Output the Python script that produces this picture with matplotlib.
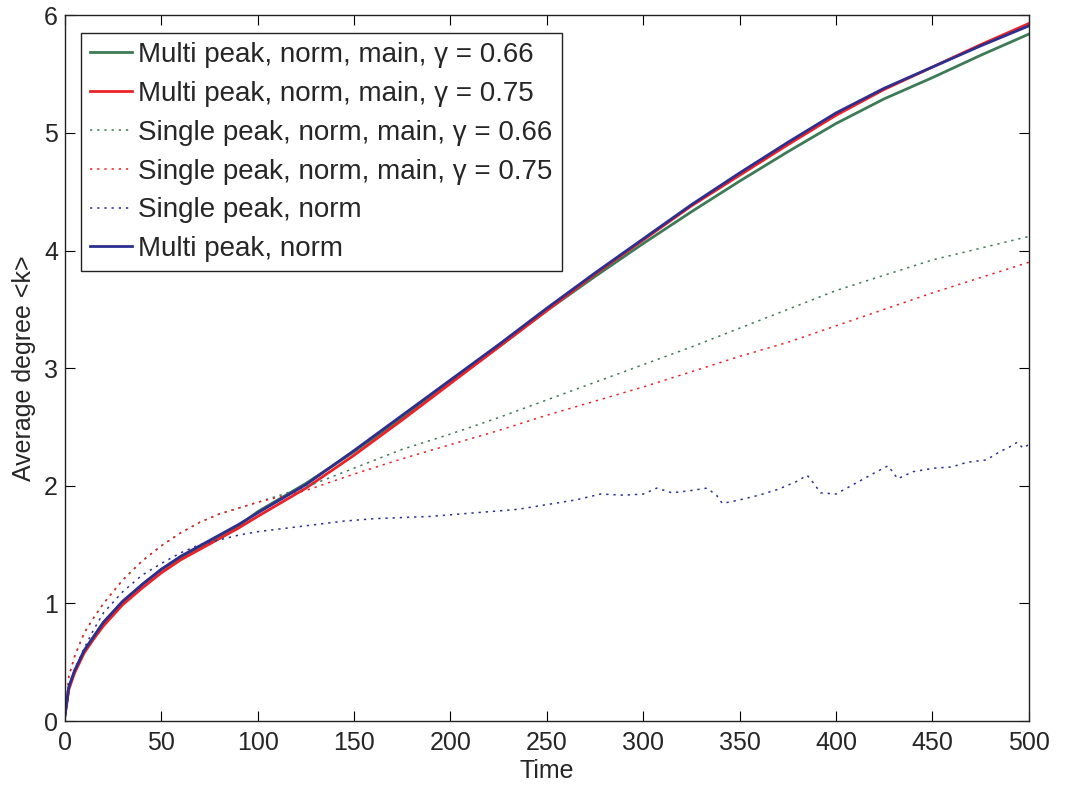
import matplotlib
matplotlib.use('Agg')
import matplotlib.pyplot as plt

plt.rcParams['font.family'] = ['Liberation Sans', 'DejaVu Sans']

# time samples for the smooth curves
t = [0, 2, 5, 10, 15, 20, 30, 40, 50, 60, 70, 80, 90, 100, 125, 150, 175,
     200, 225, 250, 275, 300, 325, 350, 375, 400, 425, 450, 475, 500]

multi_066 = [0.05, 0.28, 0.42, 0.60, 0.72, 0.84, 1.01, 1.16, 1.29, 1.39, 1.48,
             1.57, 1.66, 1.78, 2.02, 2.29, 2.58, 2.88, 3.18, 3.49, 3.78, 4.06,
             4.33, 4.59, 4.84, 5.08, 5.29, 5.47, 5.66, 5.84]
multi_075 = [0.05, 0.27, 0.41, 0.58, 0.70, 0.81, 0.99, 1.13, 1.26, 1.37, 1.46,
             1.55, 1.64, 1.74, 1.98, 2.26, 2.56, 2.87, 3.18, 3.49, 3.80, 4.09,
             4.38, 4.64, 4.90, 5.15, 5.37, 5.56, 5.75, 5.93]
multi_norm = [0.05, 0.29, 0.43, 0.60, 0.72, 0.84, 1.02, 1.16, 1.29, 1.40, 1.49,
              1.58, 1.67, 1.77, 2.01, 2.30, 2.60, 2.90, 3.20, 3.51, 3.81, 4.10,
              4.39, 4.66, 4.92, 5.17, 5.38, 5.56, 5.74, 5.91]
single_066 = [0.0, 0.38, 0.55, 0.75, 0.88, 1.00, 1.20, 1.36, 1.49, 1.60, 1.69,
              1.76, 1.81, 1.86, 1.99, 2.15, 2.31, 2.44, 2.58, 2.73, 2.88, 3.03,
              3.18, 3.34, 3.50, 3.66, 3.79, 3.92, 4.02, 4.12]
single_075 = [0.0, 0.38, 0.55, 0.75, 0.88, 1.00, 1.20, 1.36, 1.49, 1.60, 1.69,
              1.76, 1.81, 1.86, 1.96, 2.10, 2.23, 2.35, 2.47, 2.60, 2.72, 2.84,
              2.97, 3.10, 3.22, 3.36, 3.50, 3.64, 3.77, 3.90]

# noisier single-peak run without the main-component restriction
t_sn = [0, 2, 5, 10, 15, 20, 30, 40, 50, 60, 70, 80, 90, 100, 115, 130, 145,
        160, 175, 190, 205, 220, 235, 250, 265, 278, 290, 300, 307, 315, 325,
        333, 338, 341, 350, 360, 370, 380, 385, 388, 392, 400, 410, 420, 427,
        432, 440, 451, 460, 468, 478, 485, 490, 494, 497, 500]
single_norm = [0.0, 0.30, 0.44, 0.62, 0.78, 0.92, 1.10, 1.24, 1.34, 1.43, 1.50,
               1.54, 1.58, 1.61, 1.64, 1.67, 1.70, 1.72, 1.73, 1.74, 1.76, 1.78,
               1.80, 1.84, 1.88, 1.93, 1.92, 1.93, 1.98, 1.94, 1.96, 1.98, 1.92,
               1.85, 1.88, 1.92, 1.97, 2.04, 2.09, 2.03, 1.94, 1.93, 2.02, 2.11,
               2.17, 2.06, 2.12, 2.15, 2.16, 2.20, 2.22, 2.29, 2.33, 2.37, 2.32,
               2.35]

green = '#3d7a56'
red = '#ec2227'
blue = '#2c2f8e'
dot = (0, (1.5, 3.2))

fig = plt.figure(figsize=(10.65, 7.85), dpi=100)
ax = fig.add_axes([0.061, 0.0815, 0.905, 0.899])

ax.plot(t, multi_066, color=green, lw=2.0, label='Multi peak, norm, main, γ = 0.66')
ax.plot(t, multi_075, color=red, lw=2.0, label='Multi peak, norm, main, γ = 0.75')
ax.plot(t, single_066, color=green, lw=1.1, ls=dot, label='Single peak, norm, main, γ = 0.66')
ax.plot(t, single_075, color=red, lw=1.1, ls=dot, label='Single peak, norm, main, γ = 0.75')
ax.plot(t_sn, single_norm, color=blue, lw=1.1, ls=dot, label='Single peak, norm')
ax.plot(t, multi_norm, color=blue, lw=2.0, label='Multi peak, norm')

ax.set_xlim(0, 500)
ax.set_ylim(0, 6)
ax.set_xticks(range(0, 501, 50))
ax.set_yticks(range(0, 7))
ax.tick_params(direction='in', length=7, width=0.8, top=True, right=True,
               labelsize=18, labelcolor='#262626')
ax.tick_params(axis='x', pad=7)
ax.tick_params(axis='y', pad=5)
for s in ax.spines.values():
    s.set_linewidth(1.0)
    s.set_color('#222222')

ax.set_xlabel('Time', fontsize=18, color='#262626', labelpad=3)
ax.set_ylabel('Average degree <k>', fontsize=18, color='#262626', labelpad=6)

leg = ax.legend(loc='upper left', bbox_to_anchor=(0.0166, 0.9745),
                borderaxespad=0, fontsize=20, handlelength=1.5,
                handletextpad=0.25, labelspacing=0.46, borderpad=0.32,
                fancybox=False, framealpha=1)
leg.get_frame().set_edgecolor('#222222')
leg.get_frame().set_linewidth(1.0)
for txt in leg.get_texts():
    txt.set_color('#262626')

fig.savefig('out.png', dpi=100)
